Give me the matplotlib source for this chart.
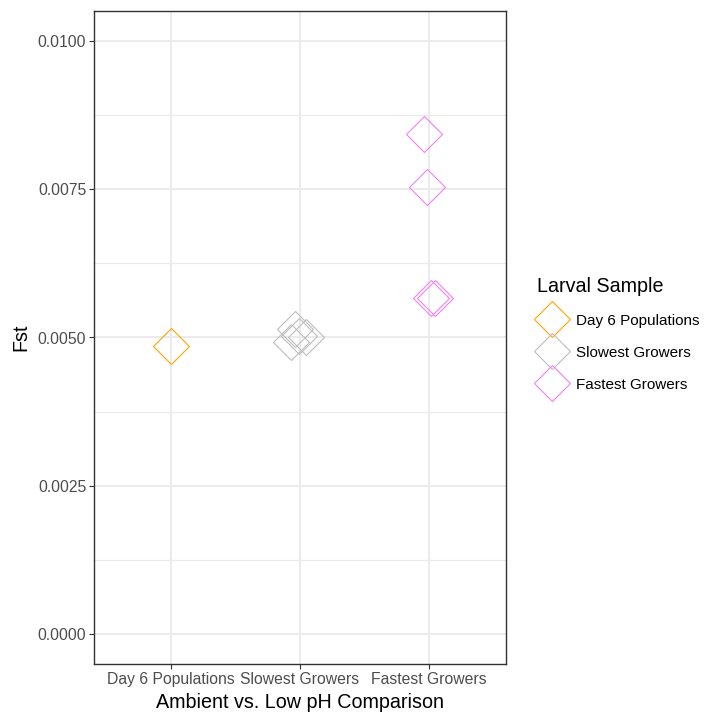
import matplotlib
matplotlib.use("Agg")
import matplotlib.pyplot as plt
from matplotlib.lines import Line2D
import numpy as np

plt.rcParams['font.family'] = ['Liberation Sans', 'DejaVu Sans']

# groups on the x axis and the colour of each
groups = ["Day 6 Populations", "Slowest Growers", "Fastest Growers"]
colors = ["#FFA500", "#BEBEBE", "#EE82EE"]

# Fst values per comparison, with the jitter used when they were plotted
day6_fst = [0.00485]
day6_x = [1.0]
slow_fst = [0.00515, 0.00500, 0.00492, 0.00503]
slow_x = [1.96, 2.05, 1.93, 1.99]
fast_fst = [0.00843, 0.00754, 0.00566, 0.00567]
fast_x = [2.96, 2.99, 3.02, 3.05]

xs = [day6_x, slow_x, fast_x]
ys = [day6_fst, slow_fst, fast_fst]

tick_fs = 11.3
title_fs = 14.2

fig = plt.figure(figsize=(7.05, 7.12), dpi=100)
ax = fig.add_axes([94/705, 48/712, 412/705, 653/712])

ms = 18.3
for x, y, c in zip(xs, ys, colors):
    ax.plot(x, y, linestyle='none', marker='D', markersize=ms,
            markerfacecolor='none', markeredgecolor=c, markeredgewidth=0.8,
            zorder=3)

ax.set_xlim(0.4, 3.6)
ax.set_ylim(-0.0005, 0.0105)
ax.set_xticks([1, 2, 3])
ax.set_xticklabels(groups)
yt = [0.0, 0.0025, 0.005, 0.0075, 0.01]
ax.set_yticks(yt)
ax.set_yticklabels(["%.4f" % v for v in yt])
ax.set_yticks([0.00125, 0.00375, 0.00625, 0.00875], minor=True)

ax.grid(True, which='major', color='#EBEBEB', linewidth=1.5, zorder=0)
ax.grid(True, which='minor', axis='y', color='#EBEBEB', linewidth=0.8, zorder=0)
ax.set_axisbelow(True)
ax.tick_params(axis='both', which='major', length=3.5, width=0.8,
               color='#333333', labelcolor='#4D4D4D', labelsize=tick_fs, pad=2)
ax.tick_params(axis='both', which='minor', length=0)
for s in ax.spines.values():
    s.set_color('#333333')
    s.set_linewidth(1.0)

ax.set_xlabel("Ambient vs. Low pH Comparison", fontsize=title_fs, labelpad=4.5)
ax.set_ylabel("Fst", fontsize=title_fs, labelpad=5)

handles = [Line2D([], [], linestyle='none', marker='D', markersize=ms,
                  markerfacecolor='none', markeredgecolor=c, markeredgewidth=0.8)
           for c in colors]
leg = fig.legend(handles, groups, title="Larval Sample", loc='upper left',
                 bbox_to_anchor=(529/705, 1 - 269/712), frameon=False,
                 fontsize=11.0, title_fontsize=title_fs, handlelength=2.05,
                 handletextpad=0.55, labelspacing=1.18, borderpad=0,
                 alignment='left')

fig.savefig("out.png", dpi=100)
